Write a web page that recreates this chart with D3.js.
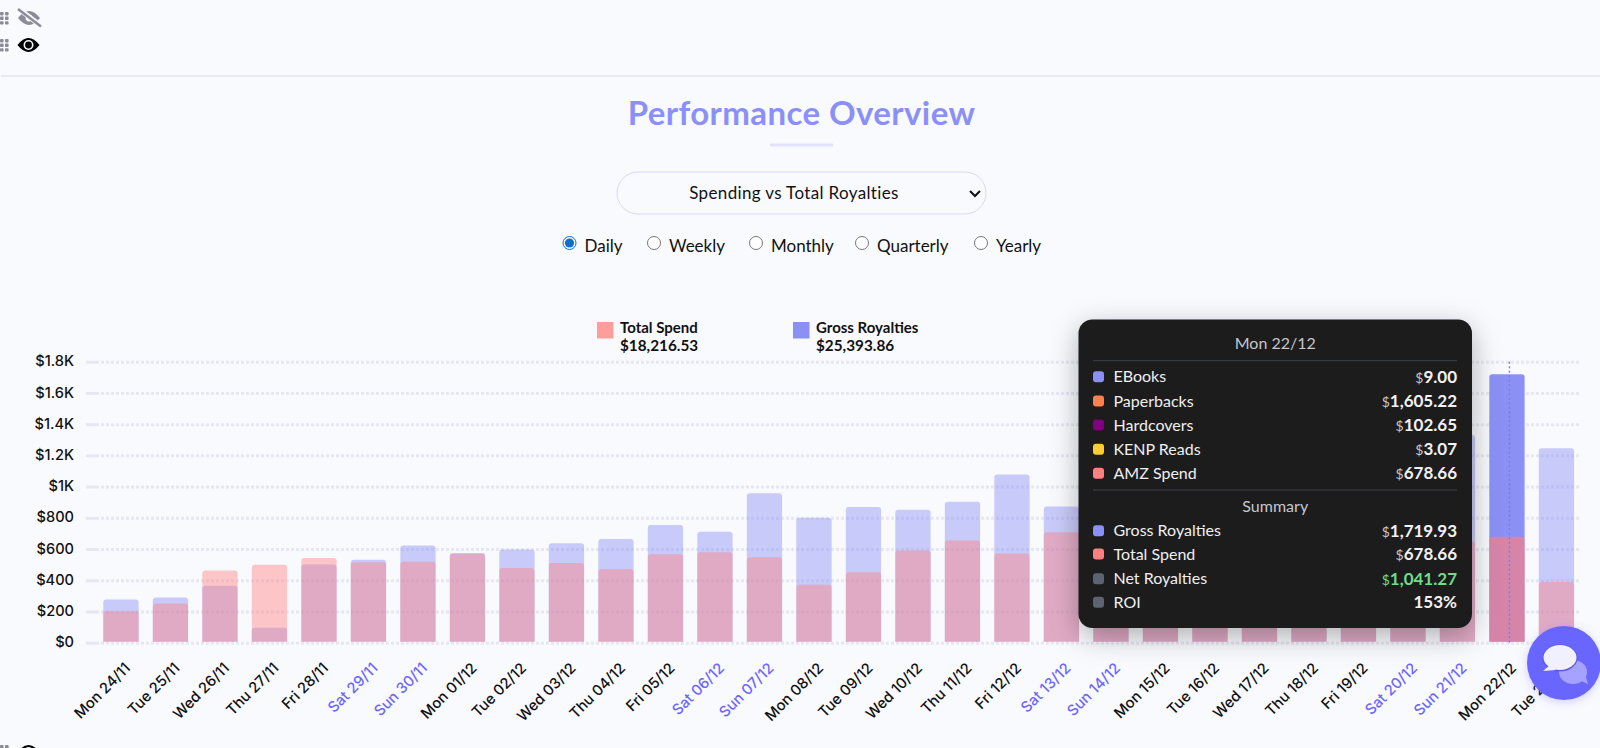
<!DOCTYPE html>
<html>
<head>
<meta charset="utf-8">
<title>Performance Overview</title>
<script src="https://cdn.jsdelivr.net/npm/d3@7"></script>
<style>
  html, body { margin: 0; padding: 0; background: #f9fafe; overflow: hidden; }
  svg { display: block; }
  text { font-family: Lato, "Noto Sans", sans-serif; }
  .tick-x text, .tick-y text { font-family: Inter, Lato, sans-serif; }
</style>
</head>
<body>
<div id="main"></div>
<script>
var days = ["Mon 24/11","Tue 25/11","Wed 26/11","Thu 27/11","Fri 28/11","Sat 29/11","Sun 30/11",
    "Mon 01/12","Tue 02/12","Wed 03/12","Thu 04/12","Fri 05/12","Sat 06/12","Sun 07/12",
    "Mon 08/12","Tue 09/12","Wed 10/12","Thu 11/12","Fri 12/12","Sat 13/12","Sun 14/12",
    "Mon 15/12","Tue 16/12","Wed 17/12","Thu 18/12","Fri 19/12","Sat 20/12","Sun 21/12",
    "Mon 22/12","Tue 23/12"];
var grossRoyalties = [276,289,365,96,501,531,622,574,597,637,665,754,710,958,801,869,852,903,1077,873,
    1010,1120,1080,1150,1220,1430,1139,1330,1719.93,1245];
var totalSpend = [202,251,463,499,542,516,518,570,478,510,470,567,580,548,372,452,591,654,572,708,
    850,900,890,920,940,1000,936,650,678.66,389];
var yTicks = [0,200,400,600,800,1000,1200,1400,1600,1800];
var yTickLabels = ["$0","$200","$400","$600","$800","$1K","$1.2K","$1.4K","$1.6K","$1.8K"];

var periods = ["Daily","Weekly","Monthly","Quarterly","Yearly"];
var legendNames = ["Total Spend","Gross Royalties"];
var legendTotals = ["$18,216.53","$25,393.86"];

var tipTitle = "Mon 22/12";
var tipLabels = ["EBooks","Paperbacks","Hardcovers","KENP Reads","AMZ Spend"];
var tipValues = ["9.00","1,605.22","102.65","3.07","678.66"];
var tipColors = ["#8b90f5","#ff7f50","#800080","#ffcc33","#ff8080"];
var sumLabels = ["Gross Royalties","Total Spend","Net Royalties","ROI"];
var sumValues = ["1,719.93","678.66","1,041.27","153%"];
var sumColors = ["#8b90f5","#ff8080","#5c6373","#5c6373"];

var ctx = {
    w: 1600,
    h: 748,
    BG: "#f9fafe",
    BLUE: "#8b90f5",
    RED: "#ff7f7f",
    ACCENT: "#6c66ff",
    ACTIVE: "Mon 22/12"
};

var svg = d3.select("#main").append("svg")
    .attr("width", ctx.w)
    .attr("height", ctx.h);

var defs = svg.append("defs");
var tipShadow = defs.append("filter").attr("id", "tipShadow")
    .attr("x", "-20%").attr("y", "-20%").attr("width", "140%").attr("height", "140%");
tipShadow.append("feDropShadow")
    .attr("dx", 0).attr("dy", 8).attr("stdDeviation", 14)
    .attr("flood-color", "#000").attr("flood-opacity", 0.3);
var btnShadow = defs.append("filter").attr("id", "btnShadow")
    .attr("x", "-30%").attr("y", "-30%").attr("width", "160%").attr("height", "160%");
btnShadow.append("feDropShadow")
    .attr("dx", 0).attr("dy", 2).attr("stdDeviation", 5)
    .attr("flood-color", "#6c66ff").attr("flood-opacity", 0.3);

// rectangle with only the top corners rounded
var topRounded = function(x, y, w, h, r){
    if (h < r) { r = h; }
    return "M" + x + "," + (y + h) + "V" + (y + r) + "Q" + x + "," + y + " " + (x + r) + "," + y
        + "H" + (x + w - r) + "Q" + (x + w) + "," + y + " " + (x + w) + "," + (y + r)
        + "V" + (y + h) + "Z";
};

// the grey drag handle and eye icons on the top left
var drawHandle = function(x, y){
    var g = svg.append("g").attr("fill", "#8a8c99");
    [0, 1].forEach(function(c){
        [0, 1, 2].forEach(function(r){
            g.append("rect").attr("x", x + c * 5).attr("y", y + r * 4.6)
                .attr("width", 3.6).attr("height", 3.4).attr("rx", 0.8);
        });
    });
};

var drawEye = function(cx, cy){
    var g = svg.append("g").attr("transform", "translate(" + cx + "," + cy + ")");
    g.append("path").attr("d", "M-11,0Q0,-14 11,0Q0,14 -11,0Z").attr("fill", "#000");
    g.append("circle").attr("r", 5).attr("fill", "#f9fafe");
    g.append("circle").attr("r", 3.4).attr("fill", "#000");
    return g;
};

var drawHeader = function(){
    drawHandle(0, 12);
    var slash = svg.append("g").attr("transform", "translate(29,18)");
    slash.append("path").attr("d", "M-11,0Q0,-14 11,0Q0,14 -11,0Z").attr("fill", "#8a8c99");
    slash.append("circle").attr("r", 3.4).attr("fill", "#f9fafe");
    slash.append("line").attr("x1", -10).attr("y1", -9).attr("x2", 12).attr("y2", 8)
        .style("stroke", "#f9fafe").style("stroke-width", 5);
    slash.append("line").attr("x1", -11).attr("y1", -9).attr("x2", 12).attr("y2", 8.5)
        .style("stroke", "#8a8c99").style("stroke-width", 2.4);
    drawHandle(0, 39);
    drawEye(28.5, 45);

    svg.append("line").attr("x1", 1).attr("x2", ctx.w).attr("y1", 76).attr("y2", 76)
        .style("stroke", "#e2e3ee").style("stroke-width", 1.5);

    svg.append("text").attr("x", 801.5).attr("y", 125)
        .attr("text-anchor", "middle")
        .style("font-size", "33px").style("font-weight", 700)
        .style("letter-spacing", "0.4px")
        .style("fill", ctx.BLUE)
        .text("Performance Overview");
    svg.append("rect").attr("x", 770).attr("y", 143.5).attr("width", 63).attr("height", 3)
        .style("fill", "#e1e2fb");

    // dropdown
    svg.append("rect").attr("x", 617).attr("y", 172).attr("width", 369).attr("height", 42)
        .attr("rx", 21)
        .style("fill", ctx.BG).style("stroke", "#d6d9fb").style("stroke-width", 1);
    svg.append("text").attr("x", 794).attr("y", 199)
        .attr("text-anchor", "middle")
        .style("font-size", "17px").style("fill", "#111")
        .style("letter-spacing", "0.35px")
        .text("Spending vs Total Royalties");
    svg.append("path").attr("d", "M970,191l5,5l5,-5")
        .style("fill", "none").style("stroke", "#111").style("stroke-width", 2);

    // period radios
    var radioX = [569.5, 654, 756, 862, 981];
    var radios = svg.selectAll(".radio").data(periods).enter().append("g")
        .attr("class", "radio")
        .attr("transform", function(d, i){ return "translate(" + radioX[i] + ",243)"; });
    radios.append("circle").attr("r", 6.5)
        .style("fill", "#fff")
        .style("stroke", function(d, i){ return i === 0 ? "#0b6fd0" : "#777"; })
        .style("stroke-width", 1);
    radios.filter(function(d, i){ return i === 0; }).append("circle").attr("r", 4.6)
        .style("fill", "#0b6fd0");
    radios.append("text").attr("x", 15).attr("y", 9)
        .style("font-size", "17px").style("fill", "#111")
        .text(function(d){ return d; });
};

var drawLegend = function(){
    var legendX = [597, 793];
    var legendFill = ["#ff9d9d", ctx.BLUE];
    var items = svg.selectAll(".legend").data(legendNames).enter().append("g")
        .attr("class", "legend")
        .attr("transform", function(d, i){ return "translate(" + legendX[i] + ",322)"; });
    items.append("rect").attr("width", 16.5).attr("height", 16.5)
        .style("fill", function(d, i){ return legendFill[i]; });
    items.append("text").attr("x", 23).attr("y", 11)
        .style("font-size", "15px").style("font-weight", 700).style("fill", "#111")
        .text(function(d){ return d; });
    items.append("text").attr("x", 23).attr("y", 29)
        .style("font-size", "15.3px").style("font-weight", 700).style("fill", "#111")
        .text(function(d, i){ return legendTotals[i]; });
};

var drawChart = function(){
    ctx.xScale = d3.scaleBand().domain(days)
        .range([96.2, 1581.2])
        .paddingInner(0.287)
        .paddingOuter(0.1435);
    ctx.yScale = d3.scaleLinear().domain([0, 1800])
        .range([642.7, 361.7]);

    // dotted grid, with the solid stub of each tick on the left
    var yAxis = svg.append("g").attr("class", "tick-y")
        .attr("transform", "translate(86,0)")
        .call(d3.axisLeft(ctx.yScale)
            .tickValues(yTicks)
            .tickSize(0)
            .tickPadding(12)
            .tickFormat(function(d, i){ return yTickLabels[i]; }));
    yAxis.select(".domain").remove();
    yAxis.selectAll("text")
        .attr("dy", "0.28em")
        .style("font-size", "14.6px").style("font-weight", 500).style("fill", "#111");
    yAxis.selectAll(".tick").append("line")
        .attr("x1", 0).attr("x2", 13)
        .style("stroke", "#e6e7f2").style("stroke-width", 3);
    yAxis.selectAll(".tick").append("line")
        .attr("x1", 15).attr("x2", 1495)
        .style("stroke", "#e6e7f2").style("stroke-width", 3)
        .style("stroke-dasharray", "3 2");

    var barW = ctx.xScale.bandwidth();
    var y0 = ctx.yScale(0);
    var barPath = function(v, d){
        return topRounded(ctx.xScale(d), ctx.yScale(v), barW, y0 - 1 - ctx.yScale(v), 3);
    };
    var active = function(d){ return d === ctx.ACTIVE; };

    svg.append("g").selectAll("path").data(days).enter().append("path")
        .attr("d", function(d, i){ return barPath(grossRoyalties[i], d); })
        .style("fill", ctx.BLUE)
        .style("fill-opacity", function(d){ return active(d) ? 1 : 0.45; });
    svg.append("g").selectAll("path").data(days).enter().append("path")
        .attr("d", function(d, i){ return barPath(totalSpend[i], d); })
        .style("fill", ctx.RED)
        .style("fill-opacity", function(d){ return active(d) ? 0.65 : 0.43; });

    // hover line through the active bar
    var hoverX = ctx.xScale(ctx.ACTIVE) + barW / 2 + 2.5;
    svg.append("line")
        .attr("x1", hoverX).attr("x2", hoverX)
        .attr("y1", ctx.yScale(1800)).attr("y2", y0)
        .style("stroke", "#6c7bff").style("stroke-width", 1.4)
        .style("stroke-dasharray", "2 2.5");

    // x axis, rotated labels
    var xAxis = svg.append("g").attr("class", "tick-x")
        .attr("transform", "translate(0," + y0 + ")")
        .call(d3.axisBottom(ctx.xScale).tickSize(0));
    xAxis.select(".domain").remove();
    xAxis.selectAll("text")
        .attr("transform", "translate(5,21) rotate(-45)")
        .attr("dy", "0.5em")
        .attr("y", 0)
        .style("text-anchor", "end")
        .style("font-size", "14.8px").style("font-weight", 500)
        .style("fill", function(d){
            return /^(Sat|Sun)/.test(d) ? ctx.ACCENT : "#111";
        });
};

var drawTooltip = function(){
    var g = svg.append("g").attr("transform", "translate(1078.5,319.5)");
    g.append("rect").attr("width", 393.5).attr("height", 308.5).attr("rx", 14)
        .style("fill", "#1d1c1e").attr("filter", "url(#tipShadow)");
    var left = 14.5, right = 378.5, mid = 196.75;

    var heading = function(txt, y){
        g.append("text").attr("x", mid).attr("y", y).attr("text-anchor", "middle")
            .style("font-size", "16px").style("fill", "#c6c6cb").text(txt);
    };
    var rule = function(y){
        g.append("line").attr("x1", left).attr("x2", right).attr("y1", y).attr("y2", y)
            .style("stroke", "#3c4049").style("stroke-width", 1);
    };
    var row = function(label, value, color, y, valueColor){
        g.append("rect").attr("x", left).attr("y", y - 5.5).attr("width", 11).attr("height", 11)
            .attr("rx", 3).style("fill", color);
        g.append("text").attr("x", 35).attr("y", y + 5.5)
            .style("font-size", "16px").style("fill", "#efeff1").text(label);
        var t = g.append("text").attr("x", right).attr("y", y + 6)
            .attr("text-anchor", "end")
            .style("font-size", "17px").style("font-weight", 700)
            .style("fill", valueColor || "#f2f2f4");
        if (value.indexOf("%") < 0) {
            t.append("tspan").style("font-size", "14px").style("font-weight", 400)
                .style("fill", valueColor || "#c6c6cb").text("$");
        }
        t.append("tspan").text(value);
    };

    heading(tipTitle, 29);
    rule(41.2);
    var tipY = [57.2, 81.5, 105.5, 129.8, 153.8];
    tipLabels.forEach(function(d, i){ row(d, tipValues[i], tipColors[i], tipY[i]); });
    rule(170.5);
    heading("Summary", 192);
    var sumY = [211.2, 234.5, 259.2, 282.8];
    sumLabels.forEach(function(d, i){
        row(d, sumValues[i], sumColors[i], sumY[i], d === "Net Royalties" ? "#6fdc8c" : null);
    });
};

var drawChatButton = function(){
    var g = svg.append("g").attr("transform", "translate(1564,663)");
    g.append("circle").attr("r", 37).style("fill", "#6766ff").attr("filter", "url(#btnShadow)");
    g.append("ellipse").attr("cx", 9).attr("cy", 9).attr("rx", 14).attr("ry", 12)
        .style("fill", "#a5a3ff");
    g.append("path").attr("d", "M15,17L24,21L21,11Z").style("fill", "#a5a3ff");
    g.append("ellipse").attr("cx", -4).attr("cy", -5).attr("rx", 17.5).attr("ry", 13.5)
        .style("fill", "#5a58e0");
    g.append("ellipse").attr("cx", -4).attr("cy", -5.5).attr("rx", 16.5).attr("ry", 12.5)
        .style("fill", "#f1f0ff");
    g.append("path").attr("d", "M-14,2L-21,8L-8,7Z").style("fill", "#f1f0ff");
};

drawHeader();
drawLegend();
drawChart();
drawTooltip();
drawChatButton();
// next section starts just below the fold
drawHandle(0, 745);
drawEye(28.5, 752);
</script>
</body>
</html>
